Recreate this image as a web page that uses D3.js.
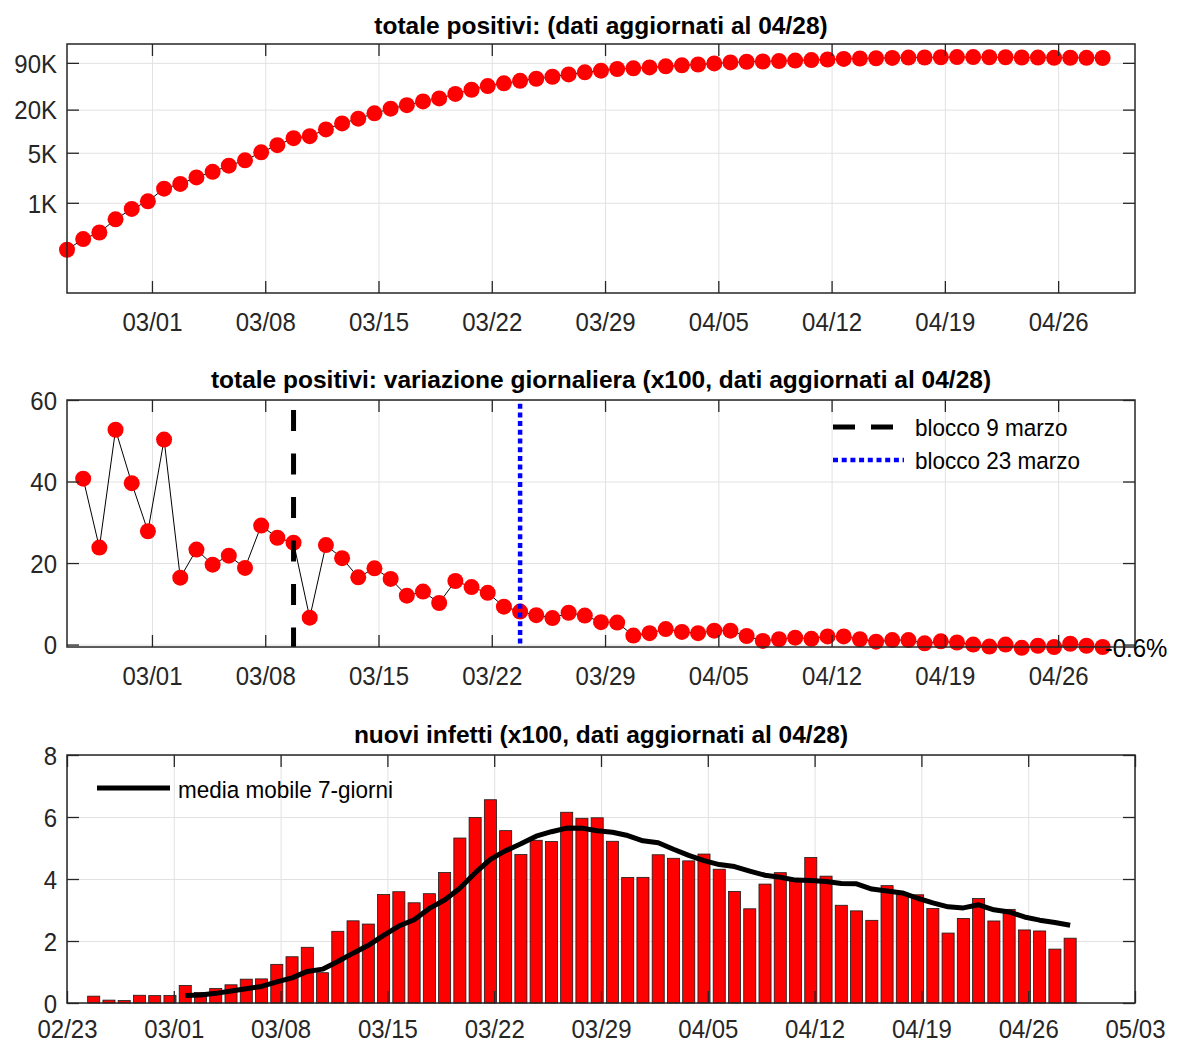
<!DOCTYPE html>
<html>
<head>
<meta charset="utf-8">
<script src="https://cdn.jsdelivr.net/npm/d3@7"></script>
<style>
  body { margin: 0; background: #fff; }
  svg text { font-family: "Liberation Sans", Arial, Helvetica, sans-serif; }
</style>
</head>
<body>
<svg id="chart" width="1181" height="1043"></svg>
<script>
// totale positivi, one value per day from 02/24 to 04/28
const totalePositivi = [221, 311, 385, 588, 821, 1049, 1577, 1835, 2263, 2706,
    3296, 3916, 5061, 6387, 7985, 8514, 10590, 12839, 14955, 17750,
    20603, 23073, 26062, 28710, 33190, 37860, 42681, 46638, 50418, 54030,
    57521, 62013, 66414, 70065, 73880, 75528, 77635, 80572, 83049, 85388,
    88274, 91246, 93187, 94067, 95262, 96877, 98273, 100269, 102253, 103616,
    104291, 105418, 106607, 106962, 107771, 108257, 108237, 107709, 107699, 106848,
    106527, 105847, 106103, 105813, 105205];

// daily change in %, from 02/25 to 04/28
const variazione = [40.7, 23.8, 52.7, 39.6, 27.8, 50.3, 16.4, 23.3, 19.6, 21.8,
    18.8, 29.2, 26.2, 25.0, 6.6, 24.4, 21.2, 16.5, 18.7, 16.1,
    12.0, 13.0, 10.2, 15.6, 14.1, 12.7, 9.3, 8.1, 7.2, 6.5,
    7.8, 7.1, 5.5, 5.4, 2.2, 2.8, 3.8, 3.1, 2.8, 3.4,
    3.4, 2.1, 0.9, 1.3, 1.7, 1.4, 2.0, 2.0, 1.3, 0.7,
    1.1, 1.1, 0.3, 0.8, 0.5, 0.0, -0.5, 0.0, -0.8, -0.3,
    -0.6, 0.2, -0.3, -0.6];

// new infections, 02/24 to 04/28
const nuoviInfetti = [0.221, 0.093, 0.078, 0.250, 0.238, 0.240, 0.566, 0.342, 0.466, 0.587,
    0.769, 0.778, 1.247, 1.492, 1.797, 0.977, 2.313, 2.651, 2.547, 3.497,
    3.590, 3.233, 3.526, 4.207, 5.322, 5.986, 6.557, 5.560, 4.789, 5.249,
    5.210, 6.153, 5.959, 5.974, 5.217, 4.050, 4.053, 4.782, 4.668, 4.585,
    4.805, 4.316, 3.599, 3.039, 3.836, 4.204, 3.951, 4.694, 4.092, 3.153,
    2.972, 2.667, 3.786, 3.493, 3.491, 3.047, 2.256, 2.729, 3.370, 2.646,
    3.021, 2.357, 2.324, 1.739, 2.091];

// 7-day moving average, 03/01 to 04/28
const mediaMobile = [0.241, 0.258, 0.311, 0.384, 0.458, 0.535, 0.679, 0.812, 1.019, 1.092,
    1.339, 1.608, 1.861, 2.182, 2.482, 2.687, 3.051, 3.322, 3.703, 4.194,
    4.632, 4.913, 5.135, 5.381, 5.525, 5.643, 5.640, 5.556, 5.507, 5.402,
    5.231, 5.170, 4.958, 4.761, 4.594, 4.466, 4.401, 4.256, 4.121, 4.055,
    3.964, 3.948, 3.916, 3.853, 3.843, 3.676, 3.616, 3.551, 3.379, 3.230,
    3.102, 3.067, 3.167, 3.005, 2.937, 2.775, 2.672, 2.598, 2.507];

const firstDayTotale = "02/24";
const firstDayVariazione = "02/25";
const firstDayMedia = "03/01";
const xDomainTop = ["02/24", "04/30"];
const xDomainBottom = ["02/23", "05/03"];
const xTicksTop = ["03/01", "03/08", "03/15", "03/22", "03/29", "04/05", "04/12", "04/19", "04/26"];
const xTicksBottom = ["02/23", "03/01", "03/08", "03/15", "03/22", "03/29", "04/05", "04/12", "04/19", "04/26", "05/03"];
const yTicksTop = [1000, 5000, 20000, 90000];
const yLabelsTop = ["1K", "5K", "20K", "90K"];
const yTicksMid = [0, 20, 40, 60];
const yTicksBottom = [0, 2, 4, 6, 8];
const blocchi = ["03/09", "03/23"];
const legendMid = ["blocco 9 marzo", "blocco 23 marzo"];
const legendBottom = "media mobile 7-giorni";
const titles = [
    "totale positivi: (dati aggiornati al 04/28)",
    "totale positivi: variazione giornaliera (x100, dati aggiornati al 04/28)",
    "nuovi infetti (x100, dati aggiornati al 04/28)"
];

const parseDay = s => d3.utcParse("%Y/%m/%d")("2020/" + s);
const at18 = s => d3.utcHour.offset(parseDay(s), 18);   // data timestamped 18:00
const series = (start, arr) => arr.map((v, i) => ({ date: d3.utcDay.offset(at18(start), i), value: v }));

const svg = d3.select("#chart");
const VS = 1.08;        // tick labels a bit taller than wide
const axisColor = "#262626";
const left = 67, right = 1135;
const markerR = 8;

const xTop = d3.scaleUtc()
    .domain([at18(xDomainTop[0]), at18(xDomainTop[1])])
    .range([left, right]);
const xBottom = d3.scaleUtc()
    .domain(xDomainBottom.map(parseDay))
    .range([left, right]);

const yTop = d3.scaleLog().domain([55, 165000]).range([293, 44]);
const yMid = d3.scaleLinear().domain([-0.6, 60]).range([647, 400]);
const yBot = d3.scaleLinear().domain([0, 8]).range([1003, 755]);

function drawGrid(x, y, xTickVals, yTickVals) {
    const [y1, y0] = y.range();
    const g = svg.append("g");
    g.append("g")
        .attr("transform", `translate(0,${y1})`)
        .call(d3.axisBottom(x).tickValues(xTickVals).tickSize(-(y1 - y0)).tickFormat(""));
    g.append("g")
        .attr("transform", `translate(${left},0)`)
        .call(d3.axisLeft(y).tickValues(yTickVals).tickSize(-(right - left)).tickFormat(""));
    g.selectAll(".domain").remove();
    g.selectAll("line").attr("stroke", "#e2e2e2").attr("stroke-width", 1);
}

function drawAxes(x, y, xTickVals, yTickVals, yFormat, labelBase) {
    const [y1, y0] = y.range();
    const g = svg.append("g").attr("color", axisColor);

    const bottom = g.append("g")
        .attr("transform", `translate(0,${y1})`)
        .call(d3.axisBottom(x).tickValues(xTickVals).tickSize(-12).tickSizeOuter(0)
            .tickPadding(0).tickFormat(d3.utcFormat("%m/%d")));
    bottom.selectAll("text")
        .attr("y", labelBase / VS).attr("dy", null)
        .attr("transform", `scale(1,${VS})`);

    g.append("g")
        .attr("transform", `translate(0,${y0})`)
        .call(d3.axisTop(x).tickValues(xTickVals).tickSize(-12).tickSizeOuter(0).tickFormat(""));

    const leftAxis = g.append("g")
        .attr("transform", `translate(${left},0)`)
        .call(d3.axisLeft(y).tickValues(yTickVals).tickSize(-12).tickSizeOuter(0)
            .tickPadding(10).tickFormat(yFormat));
    leftAxis.selectAll("text")
        .attr("dy", "0.36em")
        .attr("transform", `scale(1,${VS})`);

    g.append("g")
        .attr("transform", `translate(${right},0)`)
        .call(d3.axisRight(y).tickValues(yTickVals).tickSize(-12).tickSizeOuter(0).tickFormat(""));

    g.selectAll(".domain").remove();
    g.selectAll(".tick line").attr("stroke-width", 1.3);
    g.selectAll("text").attr("font-size", 24).attr("fill", axisColor);

    g.append("rect")
        .attr("x", left).attr("y", y0)
        .attr("width", right - left).attr("height", y1 - y0)
        .attr("fill", "none")
        .attr("stroke", axisColor)
        .attr("stroke-width", 1.5);
}

function drawTitle(text, baseline) {
    svg.append("text")
        .attr("x", (left + right) / 2)
        .attr("y", baseline)
        .attr("text-anchor", "middle")
        .attr("font-size", 24.5)
        .attr("font-weight", "bold")
        .attr("fill", "#000")
        .text(text);
}

function legendText(x, yCenter, text) {
    svg.append("text")
        .attr("transform", `translate(${x},${yCenter}) scale(1,${VS})`)
        .attr("dy", "0.36em")
        .attr("font-size", 22.5)
        .attr("fill", "#000")
        .text(text);
}

// PANEL 1: totale positivi (log)

const dataTop = series(firstDayTotale, totalePositivi);
const xTicksTopDates = xTicksTop.map(parseDay);

drawGrid(xTop, yTop, xTicksTopDates, yTicksTop);

svg.append("path")
    .datum(dataTop)
    .attr("fill", "none")
    .attr("stroke", "#000")
    .attr("stroke-width", 1)
    .attr("d", d3.line().x(d => xTop(d.date)).y(d => yTop(d.value)));

svg.append("g").selectAll("circle")
    .data(dataTop)
    .enter().append("circle")
    .attr("cx", d => xTop(d.date))
    .attr("cy", d => yTop(d.value))
    .attr("r", markerR)
    .attr("fill", "#ff0000");

drawAxes(xTop, yTop, xTicksTopDates, yTicksTop, d => yLabelsTop[yTicksTop.indexOf(d)], 38);
drawTitle(titles[0], 34);

// PANEL 2: variazione giornaliera

const dataMid = series(firstDayVariazione, variazione);

drawGrid(xTop, yMid, xTicksTopDates, yTicksMid);

svg.append("path")
    .datum(dataMid)
    .attr("fill", "none")
    .attr("stroke", "#000")
    .attr("stroke-width", 1)
    .attr("d", d3.line().x(d => xTop(d.date)).y(d => yMid(d.value)));

svg.append("g").selectAll("circle")
    .data(dataMid)
    .enter().append("circle")
    .attr("cx", d => xTop(d.date))
    .attr("cy", d => yMid(d.value))
    .attr("r", markerR)
    .attr("fill", "#ff0000");

// lockdown lines
svg.append("line")
    .attr("x1", xTop(at18(blocchi[0]))).attr("x2", xTop(at18(blocchi[0])))
    .attr("y1", yMid.range()[1]).attr("y2", yMid.range()[0])
    .attr("stroke", "#000")
    .attr("stroke-width", 5)
    .attr("stroke-dasharray", "21,22.5")
    .attr("stroke-dashoffset", 33.5);

svg.append("line")
    .attr("x1", xTop(at18(blocchi[1]))).attr("x2", xTop(at18(blocchi[1])))
    .attr("y1", yMid.range()[1]).attr("y2", yMid.range()[0])
    .attr("stroke", "#0000ff")
    .attr("stroke-width", 4.5)
    .attr("stroke-dasharray", "5,3.7")
    .attr("stroke-dashoffset", 5);

// last value label
const lastMid = dataMid[dataMid.length - 1];
svg.append("text")
    .attr("transform", `translate(${xTop(lastMid.date) + 2},${yMid(lastMid.value) + 1}) scale(1,${VS})`)
    .attr("dy", "0.36em")
    .attr("font-size", 24)
    .attr("fill", "#000")
    .text(lastMid.value.toFixed(1) + "%");

drawAxes(xTop, yMid, xTicksTopDates, yTicksMid, d3.format("d"), 38);
drawTitle(titles[1], 388);

// legend
svg.append("line")
    .attr("x1", 833).attr("x2", 893).attr("y1", 427).attr("y2", 427)
    .attr("stroke", "#000").attr("stroke-width", 5)
    .attr("stroke-dasharray", "22,16");
legendText(915, 427, legendMid[0]);
svg.append("line")
    .attr("x1", 833).attr("x2", 904).attr("y1", 460).attr("y2", 460)
    .attr("stroke", "#0000ff").attr("stroke-width", 4.5)
    .attr("stroke-dasharray", "5,3.7");
legendText(915, 460, legendMid[1]);

// PANEL 3: nuovi infetti

const dataBars = series(firstDayTotale, nuoviInfetti);
const dataMedia = series(firstDayMedia, mediaMobile);
const xTicksBottomDates = xTicksBottom.map(parseDay);
const barWidth = xBottom(d3.utcHour.offset(parseDay("03/01"), 19)) - xBottom(parseDay("03/01"));

drawGrid(xBottom, yBot, xTicksBottomDates, yTicksBottom);

svg.append("g").selectAll("rect")
    .data(dataBars)
    .enter().append("rect")
    .attr("x", d => xBottom(d.date) - barWidth / 2)
    .attr("y", d => yBot(d.value))
    .attr("width", barWidth)
    .attr("height", d => yBot(0) - yBot(d.value))
    .attr("fill", "#ff0000")
    .attr("stroke", "#1a1a1a")
    .attr("stroke-width", 0.8);

svg.append("path")
    .datum(dataMedia)
    .attr("fill", "none")
    .attr("stroke", "#000")
    .attr("stroke-width", 5)
    .attr("stroke-linejoin", "round")
    .attr("d", d3.line().x(d => xBottom(d.date)).y(d => yBot(d.value)));

drawAxes(xBottom, yBot, xTicksBottomDates, yTicksBottom, d3.format("d"), 35);
drawTitle(titles[2], 743);

svg.append("line")
    .attr("x1", 97).attr("x2", 170).attr("y1", 788).attr("y2", 788)
    .attr("stroke", "#000").attr("stroke-width", 5);
legendText(178, 789, legendBottom);
</script>
</body>
</html>
